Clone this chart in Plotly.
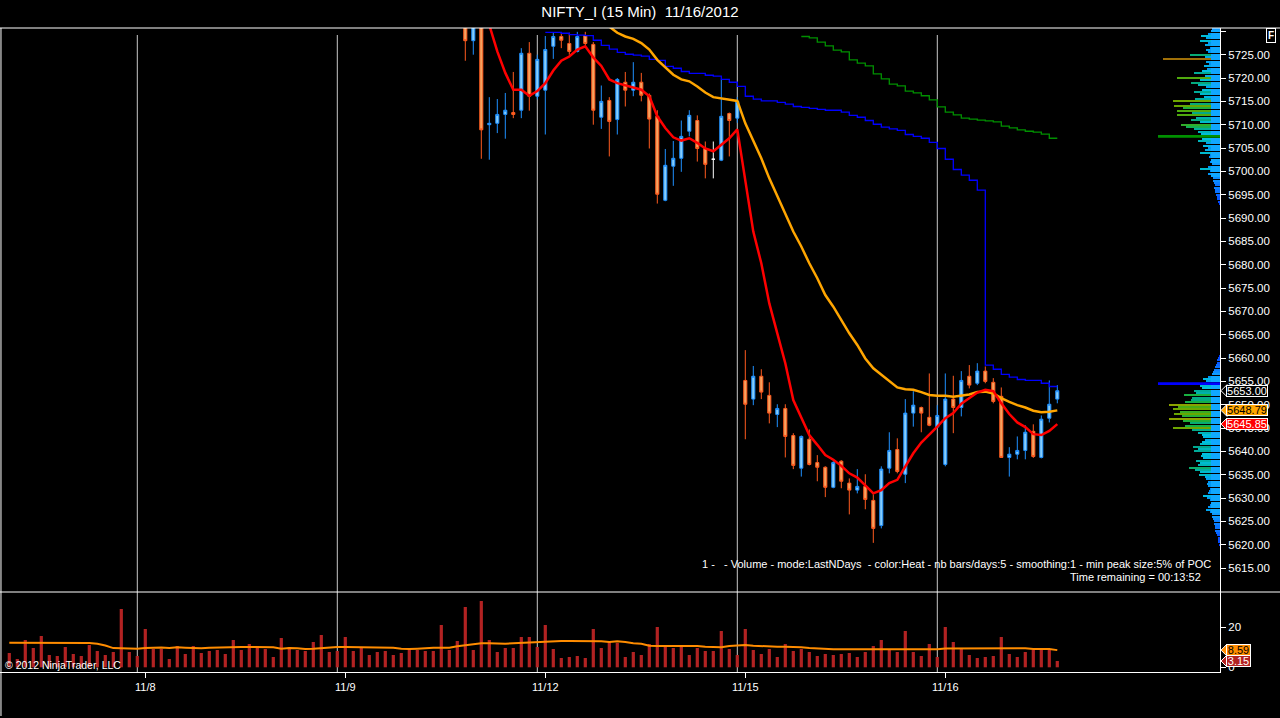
import plotly.graph_objects as go

# 15 min bars, index 0 = first bar on the chart
session_breaks = [17, 42, 67, 92, 117]
date_ticks = [18, 43, 68, 93, 118]
date_labels = ['11/8', '11/9', '11/12', '11/15', '11/16']

# candles visible in the price panel start at bar 58
candle_start = 58
c_open = [5733.0, 5728.0, 5736.0, 5710.0, 5710.3, 5712.2, 5712.6, 5713.1, 5725.3, 5716.1,
          5717.4, 5726.8, 5728.9, 5727.4, 5725.7, 5729.1, 5727.2, 5711.6, 5715.2, 5711.1,
          5719.1, 5717.4, 5719.1, 5716.3, 5711.8, 5693.8, 5701.1, 5702.8, 5708.6, 5710.9,
          5704.9, 5702.6, 5702.4, 5712.4, 5711.4,
          5655.2, 5651.2, 5656.1, 5652.0, 5647.9, 5649.2, 5643.4, 5636.4, 5642.6, 5637.6,
          5636.6, 5632.3, 5637.9, 5633.2, 5631.7, 5632.5, 5629.5, 5624.1, 5636.4, 5640.4,
          5635.1, 5648.2, 5649.4, 5647.3, 5645.2, 5637.2, 5651.2, 5649.4, 5656.1, 5654.6,
          5657.2, 5654.8, 5651.8, 5638.7, 5639.4, 5640.2, 5644.3, 5638.7, 5647.1, 5651.2]
c_high = [5735.0, 5735.0, 5737.0, 5715.9, 5715.5, 5716.8, 5721.3, 5726.4, 5727.7, 5725.0,
          5729.0, 5729.7, 5729.7, 5729.7, 5729.9, 5729.9, 5727.7, 5718.4, 5715.9, 5720.0,
          5721.3, 5723.4, 5721.1, 5716.7, 5713.1, 5704.8, 5706.5, 5710.9, 5713.1, 5712.0,
          5706.4, 5706.4, 5719.7, 5712.6, 5715.9,
          5661.7, 5658.3, 5657.6, 5654.8, 5650.1, 5650.1, 5643.9, 5643.4, 5644.7, 5639.2,
          5636.8, 5637.9, 5638.1, 5634.2, 5636.2, 5635.1, 5630.8, 5636.8, 5644.1, 5642.8,
          5651.2, 5652.9, 5649.6, 5656.7, 5649.9, 5656.7, 5656.2, 5657.2, 5658.5, 5658.9,
          5658.2, 5655.7, 5653.7, 5640.9, 5643.2, 5645.6, 5645.8, 5647.7, 5655.2, 5654.2]
c_low = [5723.7, 5725.0, 5702.7, 5702.5, 5708.2, 5707.0, 5711.4, 5711.4, 5713.0, 5715.4,
         5707.9, 5724.1, 5726.4, 5725.0, 5725.5, 5727.0, 5710.0, 5709.1, 5703.2, 5707.9,
         5713.9, 5716.1, 5715.0, 5704.9, 5693.1, 5693.6, 5696.9, 5699.9, 5707.5, 5702.1,
         5698.5, 5698.5, 5702.2, 5703.2, 5710.4,
         5642.6, 5649.9, 5651.2, 5646.0, 5645.2, 5638.7, 5636.2, 5634.6, 5637.0, 5633.6,
         5630.2, 5632.1, 5632.1, 5626.5, 5631.0, 5627.6, 5620.4, 5623.5, 5635.3, 5635.3,
         5633.2, 5645.3, 5644.1, 5645.4, 5644.9, 5636.8, 5643.9, 5647.5, 5653.5, 5654.2,
         5654.6, 5650.3, 5638.6, 5634.6, 5638.3, 5638.3, 5638.6, 5638.5, 5646.2, 5650.3]
c_close = [5728.0, 5733.0, 5708.9, 5710.3, 5712.2, 5713.1, 5712.2, 5725.3, 5716.1, 5724.0,
           5726.1, 5728.9, 5728.1, 5725.7, 5728.9, 5727.4, 5713.1, 5715.0, 5710.7, 5719.7,
           5717.4, 5719.1, 5716.3, 5711.2, 5695.1, 5701.3, 5702.8, 5707.5, 5712.0, 5704.9,
           5701.5, 5702.6, 5711.8, 5710.9, 5715.0,
           5650.1, 5656.1, 5652.7, 5648.2, 5649.2, 5643.2, 5637.0, 5643.2, 5637.2, 5636.6,
           5632.3, 5637.6, 5633.6, 5631.7, 5632.5, 5629.7, 5623.5, 5636.2, 5640.2, 5635.7,
           5648.2, 5649.9, 5648.2, 5645.6, 5647.7, 5651.2, 5649.4, 5655.2, 5654.2, 5657.2,
           5655.0, 5650.7, 5638.7, 5639.4, 5640.2, 5644.1, 5638.9, 5646.9, 5650.1, 5653.0]

# fast EMA (red), starts at bar 60
ema_start = 60
ema_fast = [5737.0, 5731.2, 5725.7, 5721.1, 5717.5, 5717.5, 5716.2, 5717.2, 5718.9, 5721.6,
            5723.7, 5724.6, 5726.1, 5726.8, 5724.4, 5722.6, 5719.7, 5718.9, 5718.4, 5718.0,
            5717.5, 5716.1, 5711.8, 5709.3, 5707.3, 5706.6, 5707.1, 5706.1, 5704.9, 5704.3,
            5705.7, 5707.1, 5709.0, 5697.8, 5687.1, 5680.3, 5671.7, 5665.3, 5658.9, 5651.0,
            5647.4, 5643.5, 5641.4, 5639.2, 5638.2, 5636.9, 5635.3, 5634.4, 5632.7, 5631.0,
            5631.7, 5633.2, 5633.9, 5636.7, 5639.6, 5641.9, 5643.5, 5645.3, 5647.1, 5648.2,
            5650.2, 5651.4, 5652.6, 5653.2, 5652.9, 5650.3, 5648.0, 5646.2, 5645.2, 5643.7,
            5643.5, 5644.4, 5645.85]

# slow average (orange), starts at bar 76
ma_start = 76
ma_slow = [5731.0, 5729.7, 5728.9, 5728.4, 5727.5, 5726.1, 5723.9, 5722.3, 5720.7, 5719.7,
           5719.3, 5718.2, 5716.9, 5715.9, 5715.6, 5715.3, 5715.1, 5710.3, 5706.4, 5702.8,
           5698.5, 5694.6, 5691.0, 5687.1, 5683.9, 5680.3, 5677.1, 5673.5, 5671.0, 5668.1,
           5665.3, 5662.8, 5659.9, 5657.8, 5656.4, 5654.9, 5653.7, 5653.3, 5653.2, 5652.7,
           5652.1, 5651.9, 5651.9, 5651.7, 5651.9, 5652.2, 5652.7, 5652.8, 5652.4, 5651.4,
           5650.6, 5649.9, 5649.4, 5648.7, 5648.4, 5648.5, 5648.79]

# blue step line, starts at bar 68
blue_start = 68
blue_step = [5729.8, 5729.8, 5729.6, 5729.3, 5729.2, 5729.1, 5728.1, 5727.0, 5726.2, 5725.5,
             5725.1, 5724.9, 5724.7, 5724.0, 5723.8, 5722.5, 5722.1, 5721.4, 5721.0, 5721.0,
             5720.6, 5720.4, 5719.7, 5719.1, 5718.2, 5716.1, 5715.5, 5715.1, 5715.1, 5714.8,
             5714.4, 5713.9, 5713.7, 5713.5, 5713.3, 5713.1, 5713.1, 5712.7, 5712.0, 5711.6,
             5710.9, 5710.1, 5709.5, 5709.1, 5708.8, 5707.9, 5707.5, 5707.1, 5706.2, 5704.9,
             5702.6, 5700.4, 5699.2, 5698.1, 5696.0, 5658.5, 5657.6, 5656.5, 5655.9, 5655.4,
             5655.2, 5655.2, 5654.6, 5653.9, 5653.9]

# green step line, starts at bar 100
green_start = 100
green_step = [5728.9, 5728.6, 5727.7, 5726.9, 5726.0, 5725.6, 5723.9, 5723.2, 5722.6, 5720.9,
              5719.8, 5718.7, 5718.3, 5717.2, 5716.8, 5716.2, 5715.3, 5713.8, 5712.7, 5712.1,
              5711.4, 5711.2, 5711.0, 5710.8, 5710.6, 5709.7, 5709.3, 5708.9, 5708.6, 5708.4,
              5708.0, 5707.1, 5707.1]

# volume, starts at bar 1
vol_start = 1
volume = [7.15, 4.15, 13.65, 9.65, 15.65, 6.15, 5.65, 10.15, 6.65, 5.65,
          11.15, 8.15, 6.15, 7.65, 29.15, 7.65, 5.65, 19.15, 9.15, 9.15,
          4.15, 10.65, 6.65, 10.65, 7.15, 8.15, 8.65, 6.65, 13.65, 8.65,
          11.65, 10.65, 9.15, 5.15, 14.65, 10.15, 8.65, 8.15, 12.65, 16.15,
          7.65, 8.15, 15.15, 8.15, 9.65, 6.15, 7.65, 8.15, 6.15, 7.15,
          9.15, 8.65, 8.15, 8.15, 21.15, 8.65, 13.15, 30.15, 8.65, 33.15,
          13.65, 7.65, 9.65, 9.65, 15.15, 15.15, 10.15, 21.15, 9.15, 4.65,
          5.15, 5.65, 4.65, 19.15, 9.65, 12.65, 12.15, 5.15, 7.65, 6.15,
          11.65, 20.15, 11.15, 9.65, 11.15, 6.15, 9.65, 8.15, 8.15, 18.15,
          9.15, 6.15, 19.15, 8.65, 6.65, 9.15, 5.15, 11.65, 8.15, 9.15,
          7.65, 5.65, 6.65, 6.15, 6.65, 7.15, 5.15, 7.65, 10.65, 13.65,
          9.15, 7.65, 18.15, 7.65, 5.65, 11.65, 5.15, 20.15, 12.65, 9.65,
          6.15, 4.65, 5.15, 5.65, 15.15, 6.65, 5.15, 7.65, 8.65, 8.65,
          8.65, 3.15]
vol_avg = [12.3, 12.3, 12.3, 12.3, 12.3, 12.3, 12.3, 12.3, 12.3, 12.3,
           12.1, 11.8, 10.9, 9.6, 9.5, 9.3, 9.3, 9.6, 9.8, 9.9,
           9.6, 10.0, 9.8, 9.6, 9.5, 9.8, 9.8, 9.8, 10.0, 10.1,
           10.2, 10.2, 10.2, 10.0, 9.3, 9.6, 9.5, 9.2, 9.3, 9.6,
           9.8, 10.1, 10.1, 10.1, 10.1, 10.1, 10.0, 9.8, 9.8, 9.3,
           9.1, 9.3, 9.6, 9.8, 9.8, 9.8, 10.5, 11.0, 11.3, 12.0,
           12.0, 11.8, 11.8, 12.0, 12.2, 12.3, 12.8, 13.0, 13.1, 13.1,
           13.1, 13.1, 12.8, 12.8, 13.0, 12.6, 13.0, 12.6, 12.0, 11.8,
           10.8, 10.6, 10.6, 10.8, 10.8, 10.6, 10.6, 10.3, 10.0, 10.0,
           10.6, 10.8, 11.1, 10.8, 10.6, 10.3, 10.3, 10.3, 10.3, 10.0,
           9.6, 9.4, 9.0, 9.0, 9.0, 9.0, 9.0, 9.0, 9.0, 9.0,
           9.0, 9.0, 9.0, 9.0, 9.0, 9.0, 9.0, 9.4, 9.4, 9.3,
           9.3, 9.3, 9.3, 9.3, 9.6, 9.6, 9.6, 9.5, 9.2, 9.2,
           9.2, 8.59]

# volume profile (5 days), 0.5 point rows
prof_hi_top = 5730.5
prof_hi_len = [8, 9, 12, 19, 14, 20, 12, 15, 10, 14,
               12, 30, 15, 57, 14, 11, 16, 13, 18, 26,
               15, 43, 20, 29, 22, 14, 18, 26, 20, 16,
               25, 47, 30, 46, 37, 43, 28, 43, 24, 29,
               20, 39, 34, 26, 22, 19, 62, 18, 22, 14,
               17, 12, 15, 20, 10, 11, 9, 10, 8, 12,
               20, 10, 12, 9, 7, 7, 6, 5, 6, 5,
               5, 4, 3, 3, 2, 1]
prof_lo_top = 5660.5
prof_lo_len = [1, 2, 3, 3, 4, 5, 6, 7, 8, 12,
               17, 14, 62, 20, 18, 26, 24, 36, 28, 29,
               35, 51, 42, 47, 40, 46, 38, 51, 37, 30,
               35, 47, 28, 22, 18, 17, 15, 18, 20, 27,
               22, 26, 18, 19, 17, 24, 20, 22, 31, 25,
               20, 21, 15, 14, 12, 13, 12, 10, 11, 12,
               17, 13, 10, 9, 10, 12, 14, 10, 8, 8,
               7, 6, 6, 5, 5, 5, 4, 3, 2, 2,
               2, 1]
poc_price = [5707.5, 5654.5]
poc_len = [62, 62]

last_price = 5653.00
last_ma_slow = 5648.79
last_ema = 5645.85
last_vol_avg = 8.59
last_vol = 3.15

FONT = 'Arial, Liberation Sans, sans-serif'
W, H = 1280, 718
ML, MR, MT, MB = 0, 60, 28, 46
PLOT_W = W - ML - MR
PLOT_H = H - MT - MB
VOL_FRAC = 80 / PLOT_H


def idx(start, vals):
    return list(range(start, start + len(vals)))


fig = go.Figure()

# candles split by direction
cx = idx(candle_start, c_open)
groups = {'up': [], 'down': [], 'doji': []}
for i in range(len(cx)):
    if c_close[i] > c_open[i]:
        groups['up'].append(i)
    elif c_close[i] < c_open[i]:
        groups['down'].append(i)
    else:
        groups['doji'].append(i)

styles = {
    'up': ('#87CEFA', '#1E90FF'),
    'down': ('#F4A460', '#FF5A1E'),
    'doji': ('#FFFFFF', '#FFFFFF'),
}
for name, ids in groups.items():
    fill, line = styles[name]
    side = dict(fillcolor=fill, line=dict(color=line, width=1))
    fig.add_trace(go.Candlestick(
        x=[cx[i] for i in ids],
        open=[c_open[i] for i in ids],
        high=[c_high[i] for i in ids],
        low=[c_low[i] for i in ids],
        close=[c_close[i] for i in ids],
        increasing=side, decreasing=side,
        whiskerwidth=0, hoverinfo='skip',
        xaxis='x', yaxis='y'
    ))

# step lines
fig.add_trace(go.Scatter(x=idx(blue_start, blue_step), y=blue_step, mode='lines',
                         line=dict(color='#0000FF', width=1.3, shape='hv'),
                         xaxis='x', yaxis='y'))
fig.add_trace(go.Scatter(x=idx(green_start, green_step), y=green_step, mode='lines',
                         line=dict(color='#009000', width=1.3, shape='hv'),
                         xaxis='x', yaxis='y'))

# moving averages
fig.add_trace(go.Scatter(x=idx(ma_start, ma_slow), y=ma_slow, mode='lines',
                         line=dict(color='#FFA500', width=2.5),
                         xaxis='x', yaxis='y'))
fig.add_trace(go.Scatter(x=idx(ema_start, ema_fast), y=ema_fast, mode='lines',
                         line=dict(color='#FF0000', width=2.5),
                         xaxis='x', yaxis='y'))

# volume profile on the right (heat colour, blue base near the axis)
prof_y = [prof_hi_top - 0.5 * i for i in range(len(prof_hi_len))] + \
         [prof_lo_top - 0.5 * i for i in range(len(prof_lo_len))]
prof_x = prof_hi_len + prof_lo_len
heat = [[0, '#0030FF'], [0.15, '#0080FF'], [0.3, '#00C0E0'], [0.45, '#00A890'],
        [0.6, '#18B040'], [0.75, '#60A800'], [0.9, '#A0A000'], [1, '#A04010']]
fig.add_trace(go.Bar(x=prof_x, y=prof_y, orientation='h', width=0.22,
                     marker=dict(color=prof_x, colorscale=heat, cmin=0, cmax=60,
                                 line=dict(width=0)),
                     xaxis='x2', yaxis='y', hoverinfo='skip'))
base_x = [min(v, 9) for v in prof_x]
fig.add_trace(go.Bar(x=base_x, y=prof_y, orientation='h', width=0.22,
                     marker=dict(color=base_x, colorscale=[[0, '#0030FF'], [1, '#10A8FF']],
                                 cmin=0, cmax=9, line=dict(width=0)),
                     xaxis='x2', yaxis='y', hoverinfo='skip'))
fig.add_trace(go.Bar(x=poc_len, y=poc_price, orientation='h', width=0.6,
                     marker=dict(color=['#009000', '#0000FF'], line=dict(width=0)),
                     xaxis='x2', yaxis='y', hoverinfo='skip'))

# volume panel
fig.add_trace(go.Bar(x=idx(vol_start, volume), y=volume, width=0.4,
                     marker=dict(color='#B22222', line=dict(width=0)),
                     xaxis='x', yaxis='y2', hoverinfo='skip'))
fig.add_trace(go.Scatter(x=idx(vol_start, vol_avg), y=vol_avg, mode='lines',
                         line=dict(color='#FF8C00', width=2),
                         xaxis='x', yaxis='y2'))

# session break lines and frame
shapes = []
top_px = (H - MB - 35) / PLOT_H
for b in session_breaks:
    shapes.append(dict(type='line', xref='x', yref='paper', x0=b, x1=b, y0=0, y1=top_px,
                       line=dict(color='#C8C8C8', width=1), layer='below'))
for yy in [1.0, VOL_FRAC]:
    shapes.append(dict(type='line', xref='paper', yref='paper', x0=0, x1=W / PLOT_W,
                       y0=yy, y1=yy, line=dict(color='white', width=1)))
shapes.append(dict(type='line', xref='paper', yref='paper', x0=0.0008, x1=0.0008,
                   y0=-(MB - 2) / PLOT_H, y1=1, line=dict(color='white', width=1)))

# price / volume markers on the axis: pointer + boxed label
markers = [
    ('y', last_price, 'black', 'white', 40),
    ('y', last_ma_slow, '#FFA500', 'black', 40),
    ('y', last_ema, '#FF0000', 'white', 40),
    ('y2', last_vol_avg, '#FF8C00', 'black', 23),
    ('y2', last_vol, '#B22222', 'white', 23),
]
annotations = []
for yref, val, fill, txt, wbox in markers:
    shapes.append(dict(type='path', xref='paper', yref=yref,
                       xsizemode='pixel', ysizemode='pixel', xanchor=1.0, yanchor=val,
                       path='M 1 0 L 7 6 L 7 -6 Z',
                       fillcolor=fill, line=dict(color='white', width=1)))
    annotations.append(dict(xref='paper', yref=yref, x=1.0, y=val, xanchor='left',
                            yanchor='middle', xshift=6, text='%.2f' % val, showarrow=False,
                            width=wbox, height=10, align='center', borderpad=0,
                            bgcolor=fill, bordercolor='white', borderwidth=1,
                            font=dict(family=FONT, size=11, color=txt)))

annotations += [
    dict(xref='paper', yref='paper', x=3 / PLOT_W, y=(H - MB - 665) / PLOT_H,
         xanchor='left', yanchor='middle', showarrow=False,
         text='© 2012 NinjaTrader, LLC', font=dict(family=FONT, size=10.5, color='white')),
    dict(xref='paper', yref='paper', x=1213 / PLOT_W, y=(H - MB - 564) / PLOT_H,
         xanchor='right', yanchor='middle', showarrow=False,
         text='1 - \u00a0 - Volume - mode:LastNDays \u00a0- color:Heat - nb bars/days:5'
              ' - smoothing:1 - min peak size:5% of POC',
         font=dict(family=FONT, size=11, color='white')),
    dict(xref='paper', yref='paper', x=1203 / PLOT_W, y=(H - MB - 577) / PLOT_H,
         xanchor='right', yanchor='middle', showarrow=False,
         text='Time remaining = 00:13:52', font=dict(family=FONT, size=11, color='white')),
    dict(xref='paper', yref='paper', x=1271 / PLOT_W, y=(H - MB - 35) / PLOT_H,
         xanchor='center', yanchor='middle', showarrow=False, text='<b>F</b>',
         bgcolor='black', bordercolor='white', borderwidth=1, borderpad=1,
         font=dict(family=FONT, size=10, color='white')),
]

price_ticks = list(range(5615, 5731, 5))
price_text = ['%.2f' % v for v in price_ticks[:-1]] + ['']

fig.update_layout(
    width=W, height=H,
    margin=dict(l=ML, r=MR, t=MT, b=MB),
    paper_bgcolor='black', plot_bgcolor='black',
    showlegend=False, boxgap=0.45, barmode='overlay',
    title=dict(text='NIFTY_I (15 Min)  11/16/2012', x=0.5, xref='container',
               y=1 - 12 / H, yanchor='middle', xanchor='center',
               font=dict(family=FONT, size=15, color='white')),
    xaxis=dict(range=[-1.3 / 8, (PLOT_W - 1.3) / 8], anchor='y2',
               tickmode='array', tickvals=date_ticks, ticktext=date_labels,
               ticks='outside', ticklen=5, tickcolor='white', showgrid=False,
               zeroline=False, showline=True, linecolor='white',
               tickfont=dict(family=FONT, size=11, color='white'),
               rangeslider=dict(visible=False)),
    xaxis2=dict(range=[PLOT_W, 0], overlaying='x', anchor='y', visible=False),
    yaxis=dict(domain=[VOL_FRAC, 1], range=[5609.87, 5730.72], side='right',
               tickmode='array', tickvals=price_ticks, ticktext=price_text,
               ticks='outside', ticklen=5, tickcolor='white', showgrid=False,
               zeroline=False, showline=True, linecolor='white',
               tickfont=dict(family=FONT, size=11.5, color='white')),
    yaxis2=dict(domain=[0, VOL_FRAC], range=[-2.35, 37.65], side='right',
                tickmode='array', tickvals=[0, 20], ticks='outside', ticklen=5,
                tickcolor='white', showgrid=False, zeroline=False, showline=True,
                linecolor='white', tickfont=dict(family=FONT, size=11.5, color='white')),
    shapes=shapes, annotations=annotations,
    hovermode=False,
)

fig.write_html('out.html', config={'displayModeBar': False},
               post_script="document.body.style.margin='0';")
